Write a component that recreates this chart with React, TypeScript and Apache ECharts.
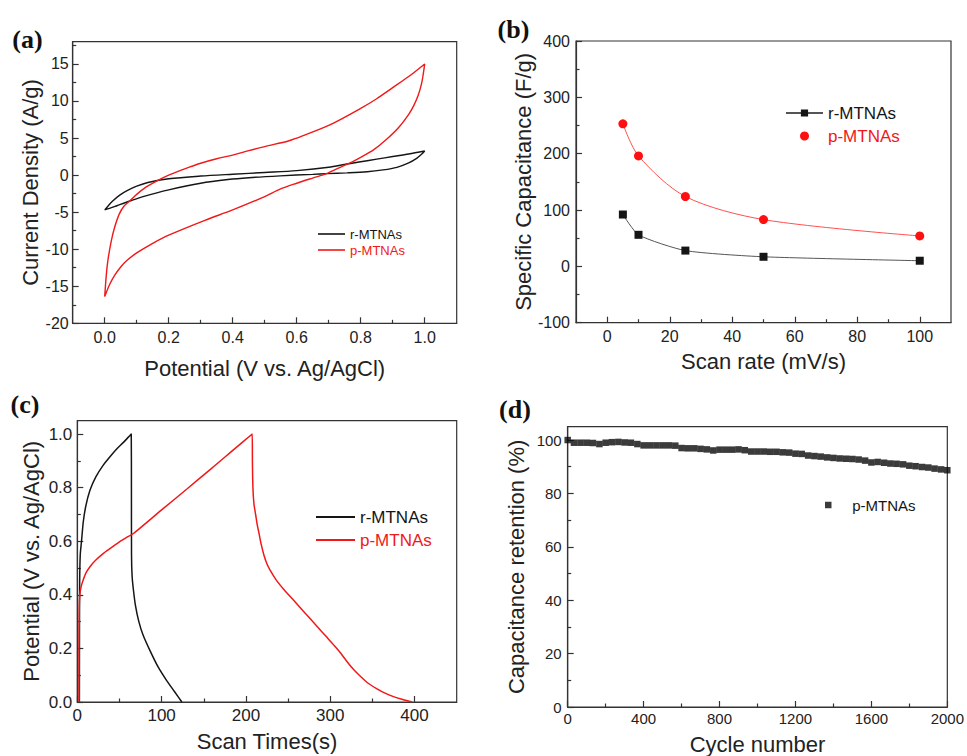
import React, { useEffect, useRef } from 'react';
import * as echarts from 'echarts';

const FONT = '"Liberation Sans", Arial, Helvetica, sans-serif';
const SERIF = '"Liberation Serif", "Times New Roman", serif';
const RED = '#f01818';
const BLACK = '#151515';

// ---------- (a) Cyclic voltammetry ----------
const cvPotentialTicks = [0, 0.2, 0.4, 0.6, 0.8, 1.0];
const cvPotentialMinor = [0.1, 0.3, 0.5, 0.7, 0.9];
const cvCurrentTicks = [-20, -15, -10, -5, 0, 5, 10, 15];
const cvCurrentMinor = [-17.5, -12.5, -7.5, -2.5, 2.5, 7.5, 12.5, 17.5];
// r-MTNAs loop: anodic (upper) branch then cathodic (lower) branch
const cvR: number[][] = [
  [0, -4.7], [0.01, -4.2], [0.025, -3.5], [0.047, -2.7], [0.07, -2.1], [0.1, -1.5], [0.135, -1.0],
  [0.2, -0.5], [0.3, -0.13], [0.4, 0.12], [0.5, 0.35], [0.6, 0.6], [0.7, 1.05], [0.757, 1.5],
  [0.8, 1.8], [0.85, 2.15], [0.9, 2.5], [0.95, 2.85], [1.0, 3.25],
  [0.99, 2.8], [0.976, 2.3], [0.95, 1.65], [0.913, 1.05], [0.87, 0.7], [0.82, 0.45], [0.757, 0.3],
  [0.694, 0.2], [0.65, 0.1], [0.548, -0.1], [0.45, -0.35], [0.385, -0.6], [0.3, -1.1], [0.2, -2.0],
  [0.12, -2.9], [0.085, -3.4], [0.04, -4.1], [0.015, -4.5], [0, -4.7],
];
// p-MTNAs loop
const cvP: number[][] = [
  [0, -16.4], [0.005, -13.5], [0.01, -11.5], [0.02, -9.0], [0.03, -7.2], [0.045, -5.3], [0.06, -4.2],
  [0.078, -3.5], [0.1, -2.6], [0.13, -1.6], [0.162, -0.8], [0.2, 0.0], [0.25, 0.85], [0.3, 1.6],
  [0.35, 2.2], [0.4, 2.7], [0.45, 3.3], [0.5, 3.85], [0.574, 4.6], [0.6, 5.0], [0.7, 6.7],
  [0.8, 9.0], [0.85, 10.3], [0.9, 11.8], [0.95, 13.3], [1.0, 15.0],
  [0.995, 13.5], [0.99, 12.3], [0.98, 10.8], [0.965, 9.3], [0.95, 8.2], [0.92, 6.5], [0.88, 4.8],
  [0.84, 3.4], [0.8, 2.4], [0.76, 1.5], [0.72, 0.75], [0.694, 0.2], [0.65, -0.4], [0.6, -1.1],
  [0.548, -1.9], [0.5, -2.9], [0.4, -4.7], [0.313, -6.1], [0.2, -8.1], [0.15, -9.2], [0.1, -10.5],
  [0.07, -11.5], [0.05, -12.4], [0.03, -13.6], [0.015, -14.8], [0, -16.4],
];

// ---------- (b) Specific capacitance ----------
const rateTicks = [0, 20, 40, 60, 80, 100];
const rateMinor = [10, 30, 50, 70, 90];
const capTicks = [-100, 0, 100, 200, 300, 400];
const capMinor = [-50, 50, 150, 250, 350];
const scanRates = [5, 10, 25, 50, 100];
const capR = [92, 56, 28, 17, 10];
const capP = [253, 196, 124, 83, 54];

// ---------- (c) Galvanostatic charge/discharge ----------
const timeTicks = [0, 100, 200, 300, 400];
const timeMinor = [50, 150, 250, 350];
const potTicks = [0, 0.2, 0.4, 0.6, 0.8, 1.0];
const potMinor = [0.1, 0.3, 0.5, 0.7, 0.9];
const gcdR: number[][] = [
  [2.5, 0], [2.6, 0.3], [2.8, 0.45], [3.5, 0.55], [5, 0.6], [7, 0.67], [10, 0.73], [15, 0.79],
  [22, 0.84], [31, 0.885], [40, 0.92], [47, 0.945], [55, 0.97], [63, 0.997], [64, 1.0],
  [64.2, 0.8], [64.3, 0.55], [65, 0.47], [66.5, 0.42], [69, 0.36], [73, 0.3], [78, 0.25],
  [86.5, 0.19], [96, 0.13], [106, 0.08], [115, 0.04], [124, 0],
];
const gcdP: number[][] = [
  [2, 0], [2, 0.2], [2.3, 0.35], [3, 0.4], [4.5, 0.43], [7, 0.455], [10, 0.48], [15, 0.505],
  [22, 0.53], [31, 0.555], [40, 0.575], [50, 0.598], [60, 0.617], [67, 0.63], [100, 0.717],
  [130, 0.795], [160, 0.874], [207.5, 1.0],
  [207.7, 0.9], [208.3, 0.8], [209.5, 0.74], [211.5, 0.7], [213.5, 0.66], [215.5, 0.63], [218, 0.59],
  [221.4, 0.548], [225, 0.515], [229, 0.49], [236, 0.455], [245, 0.42], [255, 0.385], [265, 0.35],
  [275, 0.315], [285, 0.28], [295, 0.245], [305, 0.21], [313, 0.18], [320, 0.15], [328, 0.12],
  [336, 0.095], [345, 0.07], [355, 0.05], [365, 0.033], [375, 0.02], [385, 0.01], [397, 0],
];

// ---------- (d) Cycling stability ----------
const cycleTicks = [0, 400, 800, 1200, 1600, 2000];
const cycleMinor = [200, 600, 1000, 1400, 1800];
const retTicks = [0, 20, 40, 60, 80, 100];
const retMinor = [10, 30, 50, 70, 90];
const cycles = [
  0, 33, 67, 100, 133, 167, 200, 233, 267, 300, 333, 367, 400, 433, 467, 500, 533, 567, 600, 633,
  667, 700, 733, 767, 800, 833, 867, 900, 933, 967, 1000, 1033, 1067, 1100, 1133, 1167, 1200, 1233,
  1267, 1300, 1333, 1367, 1400, 1433, 1467, 1500, 1533, 1567, 1600, 1633, 1667, 1700, 1733, 1767,
  1800, 1833, 1867, 1900, 1933, 1967, 2000,
];
const retention = [
  100, 99.0, 99.0, 99.0, 98.9, 98.5, 99.0, 99.2, 99.3, 99.1, 99.0, 98.5, 98.0, 98.0, 98.0, 98.0,
  98.0, 97.9, 97.0, 96.9, 96.9, 96.7, 96.5, 96.1, 96.4, 96.4, 96.4, 96.5, 96.2, 95.7, 95.7, 95.7,
  95.6, 95.6, 95.4, 95.3, 94.9, 94.8, 94.2, 94.0, 93.8, 93.5, 93.3, 93.1, 93.0, 92.9, 92.7, 92.3,
  91.6, 91.8, 91.5, 91.2, 91.1, 90.9, 90.4, 90.2, 89.9, 89.7, 89.3, 89.0, 88.7,
];

function axisPair(
  gridIndex: number, isX: boolean, min: number, max: number, majors: number[], minors: number[],
  fmt: (v: number) => string, fontSize: number, margin: number, name: string, nameGap: number,
) {
  const common = {
    type: 'value', gridIndex, min, max, position: isX ? 'bottom' : 'left', splitLine: { show: false },
  };
  const primary = {
    ...common,
    axisLine: { show: true, onZero: false, lineStyle: { color: '#333', width: 1.2 } },
    axisTick: { show: true, inside: true, length: 6, customValues: majors, lineStyle: { color: '#333', width: 1.2 } },
    axisLabel: { show: true, customValues: majors, formatter: fmt, fontSize, margin, color: '#222', fontFamily: FONT },
    name, nameLocation: 'middle', nameGap,
    nameTextStyle: { fontSize: 22, fontFamily: FONT, color: '#222' },
  };
  const minor = {
    ...common,
    axisLine: { show: false, onZero: false },
    axisTick: { show: true, inside: true, length: 3.5, customValues: minors, lineStyle: { color: '#333', width: 1.2 } },
    axisLabel: { show: false },
  };
  return [primary, minor];
}

const f1 = (v: number) => v.toFixed(1);
const f0 = (v: number) => String(Math.round(v));
const strip = (n: string) => n.slice(2);

export default function App() {
  const ref = useRef<HTMLDivElement>(null);
  useEffect(() => {
    if (!ref.current) return;
    const chart = echarts.init(ref.current, null, { renderer: 'svg' });
    const ax = [
      axisPair(0, true, -0.1, 1.1, cvPotentialTicks, cvPotentialMinor, f1, 16, 6, 'Potential (V vs. Ag/AgCl)', 34),
      axisPair(1, true, -10, 110, rateTicks, rateMinor, f0, 16, 6, 'Scan rate (mV/s)', 28),
      axisPair(2, true, 0, 450, timeTicks, timeMinor, f0, 17, 5, 'Scan Times(s)', 28),
      axisPair(3, true, 0, 2000, cycleTicks, cycleMinor, f0, 15, 4, 'Cycle number', 26),
    ];
    const ay = [
      axisPair(0, false, -20, 18, cvCurrentTicks, cvCurrentMinor, f0, 16, 4, 'Current Density (A/g)', 30),
      axisPair(1, false, -100, 400, capTicks, capMinor, f0, 16, 6, 'Specific Capacitance (F/g)', 42),
      axisPair(2, false, 0, 1.05, potTicks, potMinor, f1, 17, 5, 'Potential (V vs. Ag/AgCl)', 35),
      axisPair(3, false, 0, 105, retTicks, retMinor, f0, 15, 6, 'Capacitance retention (%)', 40),
    ];
    const xAxis = [...ax.map((p) => p[0]), ...ax.map((p) => p[1])];
    const yAxis = [...ay.map((p) => p[0]), ...ay.map((p) => p[1])];
    const gridBase = { show: true, borderColor: '#333', borderWidth: 1.2, backgroundColor: 'transparent', containLabel: false };
    const option: any = {
      animation: false,
      backgroundColor: '#ffffff',
      textStyle: { fontFamily: FONT },
      grid: [
        { ...gridBase, left: 72.7, top: 41.7, width: 384, height: 281.6 },
        { ...gridBase, left: 576, top: 41, width: 375, height: 281.7 },
        { ...gridBase, left: 77.3, top: 420.7, width: 379.4, height: 281.3 },
        { ...gridBase, left: 567.7, top: 426.7, width: 381.3, height: 284 },
      ],
      xAxis,
      yAxis,
      legend: [
        {
          left: 318, top: 227.5, orient: 'vertical', padding: 0, itemWidth: 27, itemHeight: 1.6, itemGap: 3,
          icon: 'rect', selectedMode: false, formatter: strip, textStyle: { fontSize: 13, fontFamily: FONT },
          data: [
            { name: 'a:r-MTNAs', textStyle: { color: BLACK } },
            { name: 'a:p-MTNAs', textStyle: { color: RED } },
          ],
        },
        {
          left: 785, top: 104.5, orient: 'vertical', padding: 0, itemWidth: 37, itemHeight: 9, itemGap: 6,
          selectedMode: false, formatter: strip, textStyle: { fontSize: 17, fontFamily: FONT },
          data: [
            { name: 'b:r-MTNAs', textStyle: { color: BLACK } },
            { name: 'b:p-MTNAs', icon: 'circle', textStyle: { color: RED } },
          ],
        },
        {
          left: 316, top: 508.5, orient: 'vertical', padding: 0, itemWidth: 39, itemHeight: 1.8, itemGap: 6,
          icon: 'rect', selectedMode: false, formatter: strip, textStyle: { fontSize: 17, fontFamily: FONT },
          data: [
            { name: 'c:r-MTNAs', textStyle: { color: BLACK } },
            { name: 'c:p-MTNAs', textStyle: { color: RED } },
          ],
        },
        {
          left: 825, top: 497.5, orient: 'vertical', padding: 0, itemWidth: 38, itemHeight: 6.5,
          symbolKeepAspect: true, selectedMode: false, formatter: strip, textStyle: { fontSize: 15, fontFamily: FONT },
          data: [{ name: 'd:p-MTNAs', icon: 'path://M0 0H10V10H0Z', textStyle: { color: BLACK } }],
        },
      ],
      series: [
        {
          name: 'a:r-MTNAs', type: 'line', xAxisIndex: 0, yAxisIndex: 0, data: cvR, symbol: 'none',
          smooth: 0.3, lineStyle: { color: BLACK, width: 1.4 }, itemStyle: { color: BLACK },
        },
        {
          name: 'a:p-MTNAs', type: 'line', xAxisIndex: 0, yAxisIndex: 0, data: cvP, symbol: 'none',
          smooth: 0.3, lineStyle: { color: RED, width: 1.4 }, itemStyle: { color: RED },
        },
        {
          name: 'b:r-MTNAs', type: 'line', xAxisIndex: 1, yAxisIndex: 1,
          data: scanRates.map((x, i) => [x, capR[i]]), symbol: 'rect', symbolSize: 8, smooth: 0.2,
          lineStyle: { color: '#555', width: 1 }, itemStyle: { color: BLACK },
        },
        {
          name: 'b:p-MTNAs', type: 'line', xAxisIndex: 1, yAxisIndex: 1,
          data: scanRates.map((x, i) => [x, capP[i]]), symbol: 'circle', symbolSize: 9, smooth: 0.3,
          lineStyle: { color: '#ff5050', width: 1 }, itemStyle: { color: '#ff1010' },
        },
        {
          name: 'c:r-MTNAs', type: 'line', xAxisIndex: 2, yAxisIndex: 2, data: gcdR, symbol: 'none',
          smooth: 0.2, lineStyle: { color: BLACK, width: 1.5 }, itemStyle: { color: BLACK },
        },
        {
          name: 'c:p-MTNAs', type: 'line', xAxisIndex: 2, yAxisIndex: 2, data: gcdP, symbol: 'none',
          smooth: 0.2, lineStyle: { color: RED, width: 1.5 }, itemStyle: { color: RED },
        },
        {
          name: 'd:p-MTNAs', type: 'scatter', xAxisIndex: 3, yAxisIndex: 3,
          data: cycles.map((c, i) => [c, retention[i]]), symbol: 'rect', symbolSize: 6.5,
          itemStyle: { color: '#0a0a0a' },
        },
      ],
      graphic: [
        { type: 'text', x: 27.5, y: 39, style: { text: '(a)', fontFamily: SERIF, fontWeight: 'bold', fontSize: 26, fill: '#111', align: 'center', verticalAlign: 'middle' } },
        { type: 'text', x: 513.5, y: 29, style: { text: '(b)', fontFamily: SERIF, fontWeight: 'bold', fontSize: 26, fill: '#111', align: 'center', verticalAlign: 'middle' } },
        { type: 'text', x: 25, y: 404, style: { text: '(c)', fontFamily: SERIF, fontWeight: 'bold', fontSize: 26, fill: '#111', align: 'center', verticalAlign: 'middle' } },
        { type: 'text', x: 515, y: 409.5, style: { text: '(d)', fontFamily: SERIF, fontWeight: 'bold', fontSize: 26, fill: '#111', align: 'center', verticalAlign: 'middle' } },
      ],
    };
    chart.setOption(option);
    return () => chart.dispose();
  }, []);
  return (
    <div
      ref={ref}
      style={{ position: 'fixed', left: 0, top: 0, width: 967, height: 756, background: '#fff' }}
    />
  );
}
